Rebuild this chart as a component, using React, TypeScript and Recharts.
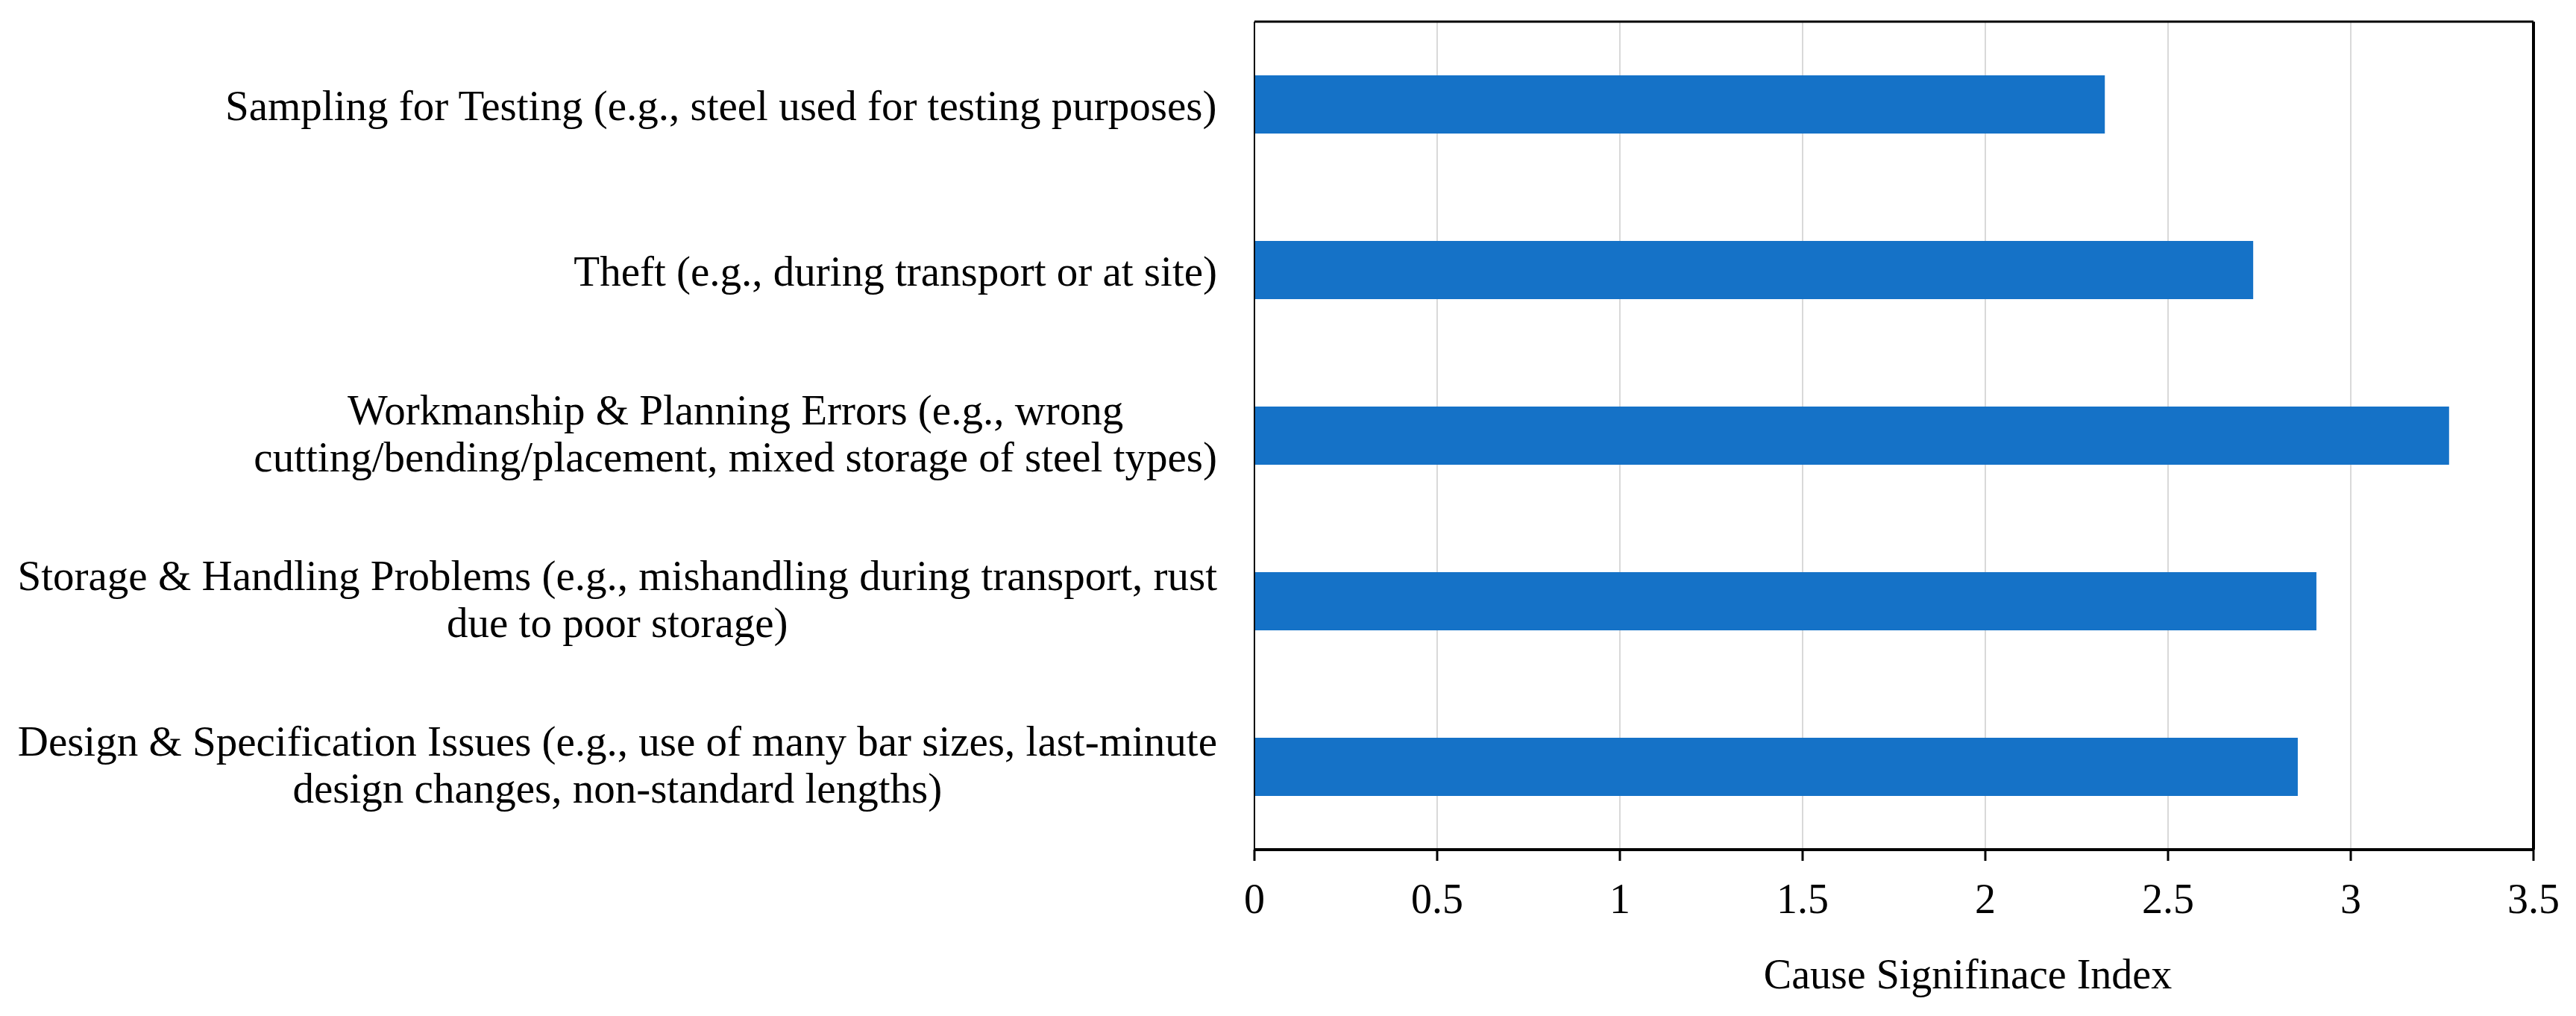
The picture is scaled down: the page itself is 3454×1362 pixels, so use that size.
import React from 'react';
import { BarChart, Bar, XAxis, YAxis, CartesianGrid, Label } from 'recharts';

const categoryLines: string[][] = [
  ['Sampling for Testing (e.g., steel used for testing purposes)'],
  ['Theft (e.g., during transport or at site)'],
  ['Workmanship & Planning Errors (e.g., wrong', 'cutting/bending/placement, mixed storage of steel types)'],
  ['Storage & Handling Problems (e.g., mishandling during transport, rust', 'due to poor storage)'],
  ['Design & Specification Issues (e.g., use of many bar sizes, last-minute', 'design changes, non-standard lengths)'],
];
const csiValues = [2.327, 2.733, 3.269, 2.906, 2.855];
const xTicks = [0, 0.5, 1, 1.5, 2, 2.5, 3, 3.5];
const axisTitle = 'Cause Signifinace Index';

const data = categoryLines.map((lines, i) => ({
  name: lines.join(' '),
  value: csiValues[i],
}));

const FONT = '"Liberation Serif", "Times New Roman", serif';
const FONT_SIZE = 56;
const LABEL_SIZE = 57;
const LINE_GAP = 63;

let ctx: CanvasRenderingContext2D | null = null;
function measure(text: string) {
  if (!ctx) {
    ctx = document.createElement('canvas').getContext('2d');
  }
  if (!ctx) return text.length * LABEL_SIZE * 0.42;
  ctx.font = `${LABEL_SIZE}px "Liberation Serif"`;
  return ctx.measureText(text).width;
}

function CategoryTick(props: any) {
  const { x, y, payload } = props;
  const idx = data.findIndex((d) => d.name === payload.value);
  const lines = idx >= 0 ? categoryLines[idx] : [String(payload.value)];
  const blockWidth = Math.max(...lines.map(measure));
  const cx = x - blockWidth / 2;
  const first = lines.length === 1 ? 21 : -15;
  return (
    <g>
      {lines.map((line, i) => (
        <text
          key={i}
          x={cx}
          y={y + first + i * LINE_GAP}
          textAnchor="middle"
          fontFamily={FONT}
          fontSize={LABEL_SIZE}
          fill="#000"
        >
          {line}
        </text>
      ))}
    </g>
  );
}

function AxisTitle(props: any) {
  const vb = props.viewBox;
  return (
    <text
      x={vb.x + vb.width / 2 + 99}
      y={vb.y + 186}
      textAnchor="middle"
      fontFamily={FONT}
      fontSize={FONT_SIZE}
      fill="#000"
    >
      {axisTitle}
    </text>
  );
}

export default function App() {
  return (
    <div style={{ width: 3454, height: 1362, background: '#fff' }}>
      <style>{`body{margin:0;background:#fff}`}</style>
      <BarChart
        width={3454}
        height={1362}
        data={data}
        layout="vertical"
        margin={{ top: 28, right: 56, bottom: 0, left: 0 }}
        barSize={78}
      >
        <CartesianGrid horizontal={false} stroke="#d9d9d9" strokeWidth={2} />
        <XAxis
          type="number"
          domain={[0, 3.5]}
          ticks={xTicks}
          height={223}
          axisLine={{ stroke: '#000', strokeWidth: 4 }}
          tickLine={{ stroke: '#000', strokeWidth: 3 }}
          tickSize={15}
          tickMargin={30}
          tick={{ fontFamily: FONT, fontSize: FONT_SIZE, fill: '#000' }}
          interval={0}
        >
          <Label content={<AxisTitle />} />
        </XAxis>
        <XAxis
          xAxisId="top"
          orientation="top"
          type="number"
          domain={[0, 3.5]}
          ticks={xTicks}
          height={1}
          tick={false}
          tickLine={false}
          axisLine={{ stroke: '#000', strokeWidth: 3 }}
        />
        <YAxis
          type="category"
          dataKey="name"
          width={1682}
          axisLine={{ stroke: '#000', strokeWidth: 2 }}
          tickLine={false}
          tickSize={0}
          tickMargin={50}
          tick={<CategoryTick />}
          interval={0}
        />
        <YAxis
          yAxisId="right"
          orientation="right"
          type="category"
          dataKey="name"
          width={1}
          tick={false}
          tickLine={false}
          axisLine={{ stroke: '#000', strokeWidth: 4 }}
        />
        <Bar dataKey="value" fill="#1572C7" isAnimationActive={false} />
      </BarChart>
    </div>
  );
}
